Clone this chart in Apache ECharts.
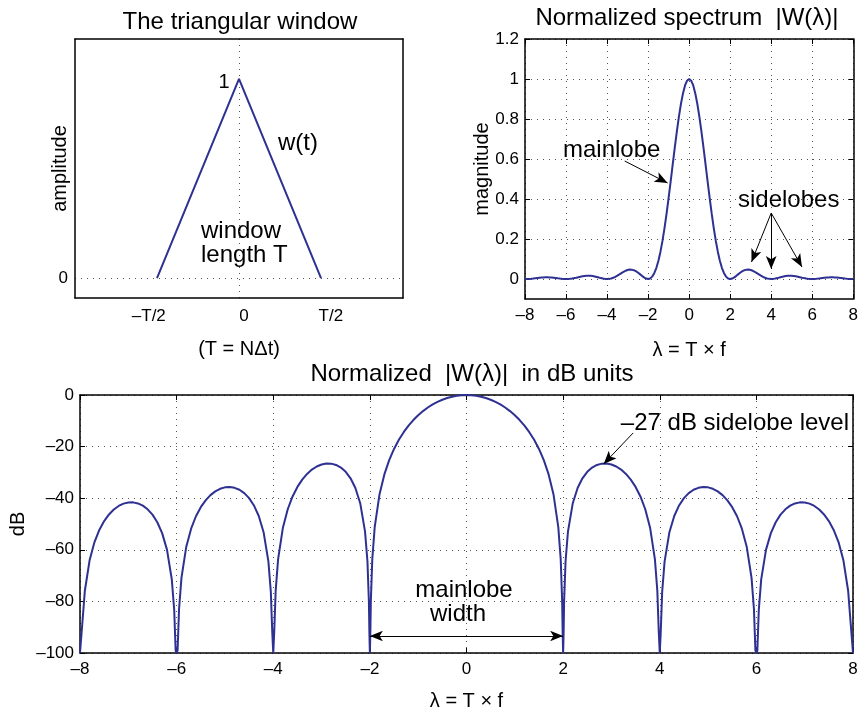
<!DOCTYPE html>
<html>
<head>
<meta charset="utf-8">
<script src="https://cdn.jsdelivr.net/npm/echarts@6/dist/echarts.min.js"></script>
<style>
  html, body { margin: 0; padding: 0; background: #fff; }
  #chart { width: 861px; height: 712px; }
</style>
</head>
<body>
<div id="chart"></div>
<script>
// triangular window w(t), t in units of T
const triT = [-0.5, 0, 0.5];
const triW = [0, 1, 0];
const triTickPos = [-0.55, 0.03, 0.56];
const triTickText = ['–T/2', '0', 'T/2'];

// normalized spectrum |W(lambda)|, read every 0.1
const lam = [
  -8.0, -7.9, -7.8, -7.7, -7.6, -7.5, -7.4, -7.3, -7.2, -7.1,
  -7.0, -6.9, -6.8, -6.7, -6.6, -6.5, -6.4, -6.3, -6.2, -6.1,
  -6.0, -5.9, -5.8, -5.7, -5.6, -5.5, -5.4, -5.3, -5.2, -5.1,
  -5.0, -4.9, -4.8, -4.7, -4.6, -4.5, -4.4, -4.3, -4.2, -4.1,
  -4.0, -3.9, -3.8, -3.7, -3.6, -3.5, -3.4, -3.3, -3.2, -3.1,
  -3.0, -2.9, -2.8, -2.7, -2.6, -2.5, -2.4, -2.3, -2.2, -2.1,
  -2.0, -1.9, -1.8, -1.7, -1.6, -1.5, -1.4, -1.3, -1.2, -1.1,
  -1.0, -0.9, -0.8, -0.7, -0.6, -0.5, -0.4, -0.3, -0.2, -0.1,
  0,
  0.1, 0.2, 0.3, 0.4, 0.5, 0.6, 0.7, 0.8, 0.9, 1.0,
  1.1, 1.2, 1.3, 1.4, 1.5, 1.6, 1.7, 1.8, 1.9, 2.0,
  2.1, 2.2, 2.3, 2.4, 2.5, 2.6, 2.7, 2.8, 2.9, 3.0,
  3.1, 3.2, 3.3, 3.4, 3.5, 3.6, 3.7, 3.8, 3.9, 4.0,
  4.1, 4.2, 4.3, 4.4, 4.5, 4.6, 4.7, 4.8, 4.9, 5.0,
  5.1, 5.2, 5.3, 5.4, 5.5, 5.6, 5.7, 5.8, 5.9, 6.0,
  6.1, 6.2, 6.3, 6.4, 6.5, 6.6, 6.7, 6.8, 6.9, 7.0,
  7.1, 7.2, 7.3, 7.4, 7.5, 7.6, 7.7, 7.8, 7.9, 8.0
];
const mag = [
  0, 0.0002, 0.0006, 0.0014, 0.0024, 0.0036, 0.0048, 0.0060, 0.0071, 0.0078,
  0.0083, 0.0083, 0.0079, 0.0072, 0.0061, 0.0048, 0.0034, 0.0021, 0.0010, 0.0003,
  0, 0.0003, 0.0012, 0.0026, 0.0045, 0.0067, 0.0091, 0.0115, 0.0136, 0.0152,
  0.0162, 0.0165, 0.0159, 0.0146, 0.0125, 0.0100, 0.0072, 0.0045, 0.0022, 0.0006,
  0, 0.0007, 0.0027, 0.0061, 0.0108, 0.0165, 0.0229, 0.0296, 0.0358, 0.0411,
  0.0450, 0.0470, 0.0468, 0.0441, 0.0392, 0.0324, 0.0243, 0.0158, 0.0080, 0.0022,
  0, 0.0027, 0.0119, 0.0289, 0.0547, 0.0901, 0.1353, 0.1904, 0.2546, 0.3268,
  0.4053, 0.4881, 0.5729, 0.6565, 0.7370, 0.8106, 0.8751, 0.9281, 0.9676, 0.9916,
  1,
  0.9916, 0.9676, 0.9281, 0.8751, 0.8106, 0.7370, 0.6565, 0.5729, 0.4881, 0.4053,
  0.3268, 0.2546, 0.1904, 0.1353, 0.0901, 0.0547, 0.0289, 0.0119, 0.0027, 0,
  0.0022, 0.0080, 0.0158, 0.0243, 0.0324, 0.0392, 0.0441, 0.0468, 0.0470, 0.0450,
  0.0411, 0.0358, 0.0296, 0.0229, 0.0165, 0.0108, 0.0061, 0.0027, 0.0007, 0,
  0.0006, 0.0022, 0.0045, 0.0072, 0.0100, 0.0125, 0.0146, 0.0159, 0.0165, 0.0162,
  0.0152, 0.0136, 0.0115, 0.0091, 0.0067, 0.0045, 0.0026, 0.0012, 0.0003, 0,
  0.0003, 0.0010, 0.0021, 0.0034, 0.0048, 0.0061, 0.0072, 0.0079, 0.0083, 0.0083,
  0.0078, 0.0071, 0.0060, 0.0048, 0.0036, 0.0024, 0.0014, 0.0006, 0.0002, 0
];

// |W(lambda)| in dB, denser near the nulls (clipped at -100)
const lamDb = [
  -8, -7.95, -7.9, -7.8, -7.7, -7.6, -7.5, -7.4, -7.3, -7.2, -7.1,
  -7.0, -6.9, -6.8, -6.7, -6.6, -6.5, -6.4, -6.3, -6.2, -6.1,
  -6.05, -6.02, -6, -5.98, -5.95, -5.9, -5.8, -5.7, -5.6, -5.5, -5.4, -5.3, -5.2, -5.1,
  -5.0, -4.9, -4.8, -4.7, -4.6, -4.5, -4.4, -4.3, -4.2, -4.1,
  -4.05, -4.02, -4, -3.98, -3.95, -3.9, -3.8, -3.7, -3.6, -3.5, -3.4, -3.3, -3.2, -3.1,
  -3.0, -2.9, -2.8, -2.7, -2.6, -2.5, -2.4, -2.3, -2.2, -2.1,
  -2.05, -2.02, -2.01, -2, -1.99, -1.98, -1.95, -1.9, -1.8, -1.7, -1.6, -1.5, -1.4, -1.3, -1.2, -1.1,
  -1.0, -0.9, -0.8, -0.7, -0.6, -0.5, -0.4, -0.3, -0.2, -0.1,
  0,
  0.1, 0.2, 0.3, 0.4, 0.5, 0.6, 0.7, 0.8, 0.9, 1.0,
  1.1, 1.2, 1.3, 1.4, 1.5, 1.6, 1.7, 1.8, 1.9, 1.95, 1.98, 1.99, 2, 2.01, 2.02, 2.05,
  2.1, 2.2, 2.3, 2.4, 2.5, 2.6, 2.7, 2.8, 2.9, 3.0,
  3.1, 3.2, 3.3, 3.4, 3.5, 3.6, 3.7, 3.8, 3.9, 3.95, 3.98, 4, 4.02, 4.05,
  4.1, 4.2, 4.3, 4.4, 4.5, 4.6, 4.7, 4.8, 4.9, 5.0,
  5.1, 5.2, 5.3, 5.4, 5.5, 5.6, 5.7, 5.8, 5.9, 5.95, 5.98, 6, 6.02, 6.05,
  6.1, 6.2, 6.3, 6.4, 6.5, 6.6, 6.7, 6.8, 6.9, 7.0,
  7.1, 7.2, 7.3, 7.4, 7.5, 7.6, 7.7, 7.8, 7.9, 7.95, 8
];
const dbVal = [
  -100, -88.07, -75.98, -63.93, -57.02, -52.31, -48.87, -46.30, -44.38, -43.01, -42.11,
  -41.65, -41.61, -42.02, -42.89, -44.31, -46.38, -49.32, -53.54, -59.94, -71.49,
  -83.33, -99.15, -100, -99.03, -83.04, -70.91, -58.78, -51.80, -47.00, -43.48, -40.82, -38.82, -37.36, -36.36,
  -35.80, -35.67, -35.97, -36.73, -38.04, -39.99, -42.81, -46.90, -53.18, -64.58,
  -76.36, -92.13, -100, -91.96, -75.92, -63.72, -51.44, -44.29, -39.33, -35.63, -32.79, -30.59, -28.92, -27.71,
  -26.93, -26.56, -26.60, -27.10, -28.13, -29.78, -32.28, -36.03, -41.94, -52.96,
  -64.53, -80.18, -92.13, -100, -91.96, -79.83, -63.66, -51.22, -38.46, -30.78, -25.24, -20.91, -17.37, -14.41, -11.88, -9.72,
  -7.85, -6.23, -4.84, -3.65, -2.65, -1.83, -1.16, -0.65, -0.29, -0.07,
  0,
  -0.07, -0.29, -0.65, -1.16, -1.83, -2.65, -3.65, -4.84, -6.23, -7.85,
  -9.72, -11.88, -14.41, -17.37, -20.91, -25.24, -30.78, -38.46, -51.22, -63.66, -79.83, -91.96, -100, -92.13, -80.18, -64.53,
  -52.96, -41.94, -36.03, -32.28, -29.78, -28.13, -27.10, -26.60, -26.56, -26.93,
  -27.71, -28.92, -30.59, -32.79, -35.63, -39.33, -44.29, -51.44, -63.72, -75.92, -91.96, -100, -92.13, -76.36,
  -64.58, -53.18, -46.90, -42.81, -39.99, -38.04, -36.73, -35.97, -35.67, -35.80,
  -36.36, -37.36, -38.82, -40.82, -43.48, -47.00, -51.80, -58.78, -70.91, -83.04, -99.03, -100, -99.15, -83.33,
  -71.49, -59.94, -53.54, -49.32, -46.38, -44.31, -42.89, -42.02, -41.61, -41.65,
  -42.11, -43.01, -44.38, -46.30, -48.87, -52.31, -57.02, -63.93, -75.98, -88.07, -100
];

const lamTicks = [-8, -6, -4, -2, 0, 2, 4, 6, 8];
const magTicks = [0, 0.2, 0.4, 0.6, 0.8, 1, 1.2];
const dbTicks = [-100, -80, -60, -40, -20, 0];

const FONT = '"Liberation Sans", Arial, sans-serif';
const BLUE = '#2e3192';
const minus = v => (v < 0 ? '–' + Math.abs(v) : String(v));

const frame = { show: true, onZero: false, lineStyle: { color: '#000', width: 1.5 } };
const dots = { show: true, lineStyle: { color: '#555', width: 1, type: [1, 5] } };
const tickIn = { show: true, inside: true, length: 5, lineStyle: { color: '#000', width: 1 } };
const lbl = { color: '#000', fontSize: 17, fontFamily: FONT };
const nameStyle = { color: '#000', fontSize: 20, fontFamily: FONT };
const noLabel = { show: false };
const noSplit = { show: false };

const zip = (xs, ys) => xs.map((x, i) => [x, ys[i]]);

const arrowLine = { color: '#000', width: 1, type: 'solid' };
const arrow = (a, b) => [
  { coord: a, symbol: 'none' },
  { coord: b, symbol: 'arrow', symbolSize: [8, 13] }
];

const chart = echarts.init(document.getElementById('chart'));

const txt = (text, x, y, size, align) => ({
  type: 'text', x: x, y: y, silent: true,
  style: { text: text, fill: '#000', font: size + 'px ' + FONT, align: align || 'center', verticalAlign: 'middle' }
});

chart.setOption({
  animation: false,
  backgroundColor: '#fff',
  grid: [
    { left: 75, top: 39, width: 328, height: 259 },
    { left: 525, top: 39, width: 329, height: 260 },
    { left: 75, top: 395, width: 778, height: 258 }
  ],
  xAxis: [
    {
      gridIndex: 0, type: 'value', min: -1, max: 1,
      axisLine: frame,
      axisTick: { show: false, customValues: [0] },
      splitLine: dots,
      axisLabel: Object.assign({ margin: 10, customValues: triTickPos,
        formatter: v => triTickText[triTickPos.indexOf(v)] }, lbl),
      name: '(T = NΔt)', nameLocation: 'middle', nameGap: 41, nameMoveOverlap: false,
      nameTextStyle: nameStyle
    },
    { gridIndex: 0, type: 'value', min: -1, max: 1, position: 'top',
      axisLine: frame, axisTick: { show: false }, axisLabel: noLabel, splitLine: noSplit },
    {
      gridIndex: 1, type: 'value', min: -8, max: 8, interval: 2,
      axisLine: frame, axisTick: tickIn, splitLine: dots,
      axisLabel: Object.assign({ margin: 8, formatter: minus }, lbl),
      name: 'λ = T × f', nameLocation: 'middle', nameGap: 41, nameMoveOverlap: false,
      nameTextStyle: nameStyle
    },
    { gridIndex: 1, type: 'value', min: -8, max: 8, interval: 2, position: 'top',
      axisLine: frame, axisTick: tickIn, axisLabel: noLabel, splitLine: noSplit },
    {
      gridIndex: 2, type: 'value', min: -8, max: 8, interval: 2,
      axisLine: frame, axisTick: tickIn, splitLine: dots,
      axisLabel: Object.assign({ margin: 8, formatter: minus }, lbl),
      name: 'λ = T × f', nameLocation: 'middle', nameGap: 38, nameMoveOverlap: false,
      nameTextStyle: nameStyle
    },
    { gridIndex: 2, type: 'value', min: -8, max: 8, interval: 2, position: 'top',
      axisLine: frame, axisTick: tickIn, axisLabel: noLabel, splitLine: noSplit }
  ],
  yAxis: [
    {
      gridIndex: 0, type: 'value', min: -0.1, max: 1.2,
      axisLine: frame,
      axisTick: { show: false, customValues: [0] },
      splitLine: dots,
      axisLabel: Object.assign({ margin: 7, customValues: [0] }, lbl),
      name: 'amplitude', nameLocation: 'middle', nameGap: 5, nameMoveOverlap: false,
      nameTextStyle: nameStyle
    },
    { gridIndex: 0, type: 'value', min: -0.1, max: 1.2, position: 'right',
      axisLine: frame, axisTick: { show: false }, axisLabel: noLabel, splitLine: noSplit },
    {
      gridIndex: 1, type: 'value', min: -0.1, max: 1.2,
      axisLine: frame,
      axisTick: Object.assign({ customValues: magTicks }, tickIn),
      splitLine: dots,
      axisLabel: Object.assign({ margin: 6, customValues: magTicks }, lbl),
      name: 'magnitude', nameLocation: 'middle', nameGap: 33, nameMoveOverlap: false,
      nameTextStyle: nameStyle
    },
    { gridIndex: 1, type: 'value', min: -0.1, max: 1.2, position: 'right',
      axisLine: frame, axisTick: Object.assign({ customValues: magTicks }, tickIn),
      axisLabel: noLabel, splitLine: noSplit },
    {
      gridIndex: 2, type: 'value', min: -100, max: 0, interval: 20,
      axisLine: frame, axisTick: tickIn, splitLine: dots,
      axisLabel: Object.assign({ margin: 6, formatter: minus }, lbl),
      name: 'dB', nameLocation: 'middle', nameGap: 52, nameMoveOverlap: false,
      nameTextStyle: nameStyle
    },
    { gridIndex: 2, type: 'value', min: -100, max: 0, interval: 20, position: 'right',
      axisLine: frame, axisTick: tickIn, axisLabel: noLabel, splitLine: noSplit }
  ],
  series: [
    {
      type: 'line', xAxisIndex: 0, yAxisIndex: 0, data: zip(triT, triW),
      showSymbol: false, lineStyle: { color: BLUE, width: 2 }
    },
    {
      type: 'line', xAxisIndex: 2, yAxisIndex: 2, data: zip(lam, mag),
      showSymbol: false, lineStyle: { color: BLUE, width: 2 },
      markLine: {
        silent: true, label: { show: false }, lineStyle: arrowLine,
        data: [
          arrow([-3.14, 0.59], [-1.05, 0.48]),
          arrow([4.0, 0.33], [3.04, 0.085]),
          arrow([4.0, 0.33], [4.0, 0.05]),
          arrow([4.0, 0.33], [5.5, 0.06])
        ]
      }
    },
    {
      type: 'line', xAxisIndex: 4, yAxisIndex: 4, data: zip(lamDb, dbVal),
      showSymbol: false, lineStyle: { color: BLUE, width: 2 },
      markLine: {
        silent: true, label: { show: false }, lineStyle: arrowLine,
        data: [
          arrow([3.45, -14.7], [2.84, -26.7]),
          [
            { coord: [-2, -93.4], symbol: 'arrow', symbolSize: [8, 13] },
            { coord: [2, -93.4], symbol: 'arrow', symbolSize: [8, 13] }
          ]
        ]
      }
    }
  ],
  graphic: [
    txt('The triangular window', 240, 22, 24),
    txt('Normalized spectrum  |W(λ)|', 687, 18, 24),
    txt('Normalized  |W(λ)|  in dB units', 472, 374, 24),
    txt('1', 224, 82, 20),
    txt('w(t)', 298, 143, 24),
    txt('window', 201, 231, 24, 'left'),
    txt('length T', 201, 255, 24, 'left'),
    txt('mainlobe', 563, 150, 24, 'left'),
    txt('sidelobes', 738, 200, 24, 'left'),
    txt('–27 dB sidelobe level', 849, 423, 24, 'right'),
    txt('mainlobe', 464, 590, 24),
    txt('width', 458, 614, 24)
  ]
});
</script>
</body>
</html>
